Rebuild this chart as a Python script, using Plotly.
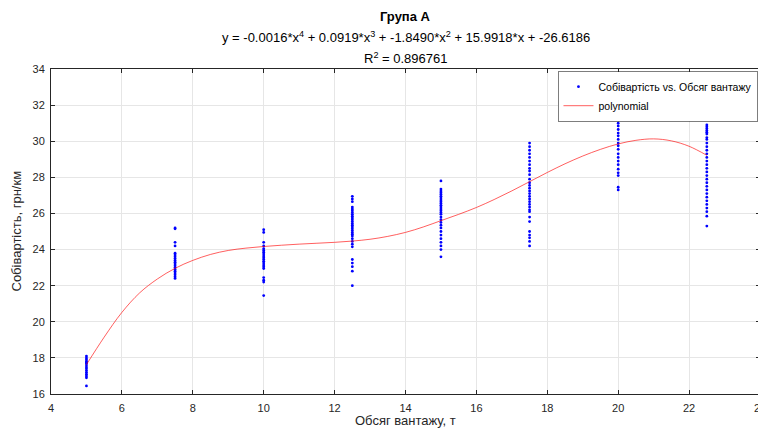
import plotly.graph_objects as go

# ---- data ----
x_5 = [18.1, 18.0, 17.9, 17.8, 17.75, 17.7, 17.6, 17.5, 17.4, 17.3, 17.2, 17.1, 17.0, 16.9, 16.45]
x_7_5 = [25.2, 25.15, 24.4, 24.2, 23.8, 23.7, 23.6, 23.5, 23.4, 23.3, 23.2, 23.1, 23.0, 22.9,
         22.8, 22.7, 22.6, 22.5, 22.4]
x_10 = [25.1, 24.95, 24.4, 24.2, 24.05, 23.95, 23.85, 23.75, 23.65, 23.55, 23.45, 23.35, 23.25,
        23.15, 23.05, 22.95, 22.45, 22.3, 22.2, 21.45]
x_12_5 = [26.95, 26.8, 26.65, 26.35, 26.25, 26.15, 26.05, 25.95, 25.85, 25.75, 25.65, 25.55,
          25.45, 25.35, 25.25, 25.15, 25.05, 24.95, 24.85, 24.75, 24.6, 24.45, 24.3, 24.15,
          23.45, 23.25, 23.05, 22.8, 22.0]
x_15 = [27.8, 27.35, 27.25, 27.15, 27.05, 26.95, 26.85, 26.75, 26.65, 26.55, 26.45, 26.35, 26.25,
        26.15, 26.05, 25.95, 25.8, 25.65, 25.5, 25.35, 25.2, 25.0, 24.8, 24.6, 24.4, 24.2, 24.0, 23.6]
x_17_5 = [29.9, 29.7, 29.5, 29.3, 29.1, 28.9, 28.7, 28.5, 28.35, 28.15, 27.9, 27.7, 27.55, 27.4,
          27.25, 27.1, 26.95, 26.8, 26.65, 26.5, 26.35, 26.2, 26.1, 25.8, 25.55, 25.0, 24.8,
          24.65, 24.45, 24.2]
x_20 = [31.75, 31.55, 31.4, 31.2, 31.0, 30.85, 30.65, 30.45, 30.3, 30.1, 29.9, 29.75, 29.55, 29.3,
        29.1, 28.9, 28.7, 28.45, 28.25, 28.1, 27.45, 27.3]
x_22_5 = [30.9, 30.8, 30.7, 30.6, 30.5, 30.4, 30.2, 30.1, 29.9, 29.7, 29.5, 29.3, 29.1, 28.9, 28.7,
          28.5, 28.3, 28.1, 27.9, 27.7, 27.5, 27.3, 27.1, 26.9, 26.7, 26.5, 26.3, 26.1, 25.85, 25.3]

load_levels = [5, 7.5, 10, 12.5, 15, 17.5, 20, 22.5]
cost_groups = [x_5, x_7_5, x_10, x_12_5, x_15, x_17_5, x_20, x_22_5]

# fitted curve, every 0.5 t
fit_x = [5, 5.5, 6, 6.5, 7, 7.5, 8, 8.5, 9, 9.5, 10, 10.5, 11, 11.5, 12, 12.5, 13, 13.5, 14,
         14.5, 15, 15.5, 16, 16.5, 17, 17.5, 18, 18.5, 19, 19.5, 20, 20.5, 21, 21.5, 22, 22.5]
fit_y = [17.63, 19.15, 20.52, 21.6, 22.37, 22.96, 23.4, 23.73, 23.95, 24.08, 24.17, 24.24,
         24.3, 24.35, 24.4, 24.47, 24.57, 24.73, 24.95, 25.25, 25.6, 25.95, 26.33, 26.77,
         27.25, 27.76, 28.27, 28.75, 29.18, 29.55, 29.85, 30.05, 30.13, 30.02, 29.72, 29.22]

x_ticks = [4, 6, 8, 10, 12, 14, 16, 18, 20, 22, 24]
y_ticks = [16, 18, 20, 22, 24, 26, 28, 30, 32, 34]

title_main = "<b>Група А</b>"
title_eq = "y = -0.0016*x<sup>4</sup> + 0.0919*x<sup>3</sup> + -1.8490*x<sup>2</sup> + 15.9918*x + -26.6186"
title_r2 = "R<sup>2</sup> = 0.896761"

sx, sy = [], []
for lv, grp in zip(load_levels, cost_groups):
    sx += [lv] * len(grp)
    sy += grp

FONT = "Liberation Sans, Arial, Helvetica, sans-serif"
AX = "#262626"

fig = go.Figure()
fig.add_trace(go.Scatter(x=sx, y=sy, mode="markers", name="Собівартість vs. Обсяг вантажу",
                         marker=dict(color="#0000ff", size=2.8, line=dict(width=0))))
fig.add_trace(go.Scatter(x=fit_x, y=fit_y, mode="lines", name="polynomial", line_shape="spline",
                         line=dict(color="rgba(255,0,0,0.7)", width=0.9)))

axis_common = dict(showline=True, linecolor=AX, linewidth=1, mirror="ticks", ticks="inside",
                   ticklen=4, tickcolor=AX, showgrid=True, gridcolor="#e6e6e6", gridwidth=1,
                   zeroline=False, tickfont=dict(family=FONT, size=11, color=AX),
                   ticklabeloverflow="allow", automargin=False)
fig.update_xaxes(range=[4, 24], tickvals=x_ticks, ticklabelstandoff=4, **axis_common)
fig.update_yaxes(range=[16, 34], tickvals=y_ticks, ticklabelstandoff=3, **axis_common)

# page body has an 8px margin, so the figure is 8px smaller than the window
fig.update_layout(
    width=758, height=421,
    margin=dict(l=43, r=6, t=61, b=35, autoexpand=False),
    paper_bgcolor="white", plot_bgcolor="white",
    font=dict(family=FONT, size=11, color=AX),
    showlegend=True,
    legend=dict(x=0.997, y=0.992, xanchor="right", yanchor="top", bgcolor="white",
                bordercolor=AX, borderwidth=0.6, font=dict(family=FONT, size=10.5, color="black"),
                tracegroupgap=0, itemwidth=30),
    annotations=[
        dict(text=title_main, xref="paper", yref="paper", x=0.5, y=1, yshift=53, showarrow=False,
             font=dict(family=FONT, size=13, color="black"), xanchor="center", yanchor="middle"),
        dict(text=title_eq, xref="paper", yref="paper", x=0.5, y=1, yshift=32, showarrow=False,
             font=dict(family=FONT, size=13, color="black"), xanchor="center", yanchor="middle"),
        dict(text=title_r2, xref="paper", yref="paper", x=0.5, y=1, yshift=11, showarrow=False,
             font=dict(family=FONT, size=13, color="black"), xanchor="center", yanchor="middle"),
        dict(text="Обсяг вантажу, т", xref="paper", yref="paper", x=0.5, y=0, yshift=-26,
             showarrow=False, font=dict(family=FONT, size=13, color=AX), xanchor="center",
             yanchor="middle"),
        dict(text="Собівартість, грн/км", xref="paper", yref="paper", x=0, y=0.5, xshift=-35,
             textangle=-90, showarrow=False, font=dict(family=FONT, size=13, color=AX),
             xanchor="center", yanchor="middle"),
    ],
)

fig.write_html("out.html")
